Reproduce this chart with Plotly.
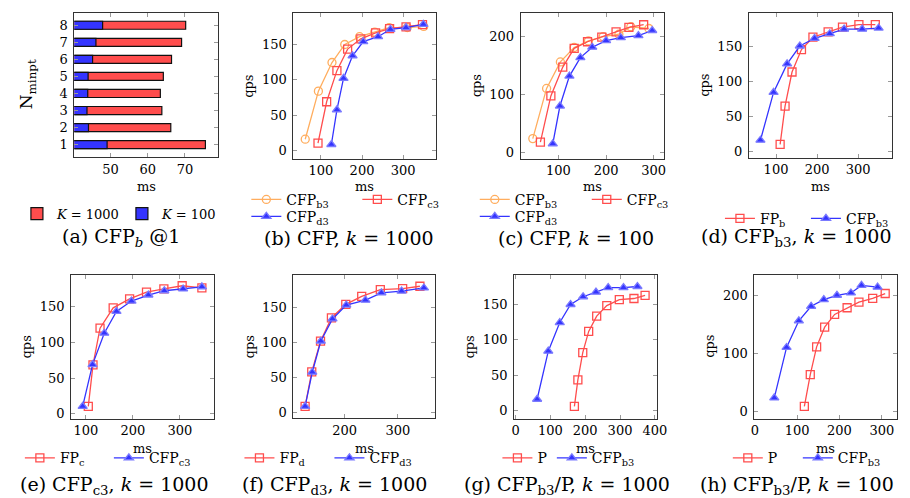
import plotly.graph_objects as go

# ---------------- data ----------------
a_N = [1, 2, 3, 4, 5, 6, 7, 8]
a_k1000 = [75.5, 66.2, 63.8, 63.4, 64.2, 66.4, 69.1, 70.2]
a_k100 = [49.1, 44.1, 43.7, 43.9, 44.0, 45.2, 46.1, 47.9]

cfp_b3_k1000_ms = [62, 94, 127, 158, 194, 231, 266, 310, 350]
cfp_b3_k1000_qps = [16, 84, 124.5, 150, 161, 167.5, 174, 174, 175.5]
cfp_c3_k1000_ms = [93, 114, 139, 165, 197, 233, 267, 307, 347]
cfp_c3_k1000_qps = [10.5, 69, 113, 143.5, 158, 166.5, 172.5, 175, 178]
cfp_d3_k1000_ms = [125.5, 139, 155, 177, 203, 239, 269, 307, 349]
cfp_d3_k1000_qps = [8.5, 57.5, 102, 134, 154, 161, 171.5, 174, 178.5]
fp_b_k1000_ms = [110, 122, 139, 162, 190, 227, 262, 302, 342]
fp_b_k1000_qps = [10, 64.5, 113, 145, 162.5, 170, 177, 180.5, 180.5]
fp_c_k1000_ms = [105, 115, 130, 158, 193, 229, 266, 305, 347]
fp_c_k1000_qps = [10.5, 68.5, 120, 148.5, 161, 170.5, 175, 179.5, 176.5]
fp_d_k1000_ms = [125.5, 138, 154.5, 175, 202, 232, 267, 309, 341.5]
fp_d_k1000_qps = [8.5, 58, 102, 135.5, 155, 166.5, 176, 177.5, 181]
p_k1000_ms = [169, 179, 193, 210, 233, 262, 298, 340, 372]
p_k1000_qps = [6, 43.5, 82, 112, 133.5, 148.5, 157, 158.5, 163]

cfp_b3_k100_ms = [46, 75, 104, 133, 163, 194, 227, 252, 290]
cfp_b3_k100_qps = [23.5, 110.5, 156.5, 181.5, 193, 200.5, 204.5, 217.5, 214.5]
cfp_c3_k100_ms = [62, 84, 109, 133, 161, 191, 221, 248, 279]
cfp_c3_k100_qps = [17.5, 97.5, 147.5, 180, 191.5, 199.5, 208.5, 216.5, 221]
cfp_d3_k100_ms = [88, 103, 123, 146, 171, 200, 231, 268, 297]
cfp_d3_k100_qps = [14.5, 80, 132, 164, 182, 193.5, 198.5, 202, 211]
p_k100_ms = [117, 131, 146, 165, 188.5, 218, 246, 278.5, 308]
p_k100_qps = [9, 63.5, 111.5, 145.5, 167.5, 179, 188.5, 195, 203.5]

captions = [
    "(a) CFP<sub><i>b</i></sub> @1",
    "(b) CFP, <i>k</i> = 1000",
    "(c) CFP, <i>k</i> = 100",
    "(d) CFP<sub>b3</sub>, <i>k</i> = 1000",
    "(e) CFP<sub>c3</sub>, <i>k</i> = 1000",
    "(f) CFP<sub>d3</sub>, <i>k</i> = 1000",
    "(g) CFP<sub>b3</sub>/P, <i>k</i> = 1000",
    "(h) CFP<sub>b3</sub>/P, <i>k</i> = 100",
]

# ---------------- style ----------------
W, H = 910, 498
FONT = "DejaVu Serif"
RED = "#ff4d4d"
BLUE = "#3434ff"
ORANGE = "#ffad5e"

fig = go.Figure()

# panel boxes in pixels: (left, right, top, bottom)
boxes = [
    (63.3, 209.3, 5, 150),
    (285.7, 430.7, 5, 151.7),
    (516.7, 662.3, 5, 151.7),
    (748.3, 893.3, 5, 150.7),
    (60, 205, 268.3, 413.3),
    (285.7, 430, 268.3, 412.7),
    (510, 655, 268.3, 413.3),
    (754, 899.3, 268.3, 413.3),
]
xranges = [[40.3, 78.9], [33, 380], [20.7, 322], [33.6, 381.6],
           [68.3, 372.5], [103.3, 370.6], [-4, 406], [-1, 337]]
yranges = [[0.27, 8.72], [-11.7, 194.6], [-11.5, 241.4], [-9, 197],
           [-7, 195], [-8.6, 197.6], [-11.7, 192.2], [-12.6, 236]]
xdticks = [10, 100, 100, 100, 100, 100, 100, 100]
ydticks = [1, 50, 100, 50, 50, 50, 50, 100]
capx = [111, 342, 573, 797, 104, 328, 564, 797]
capy = [231, 231, 231, 231, 480, 480, 480, 480]

layout = dict(
    width=W, height=H, margin=dict(l=0, r=0, t=0, b=0),
    paper_bgcolor="white", plot_bgcolor="white",
    font=dict(family=FONT, size=13, color="black"),
    barmode="overlay", showlegend=True,
)
for i, (l, r, t, b) in enumerate(boxes):
    n = "" if i == 0 else str(i + 1)
    common = dict(showline=True, linecolor="#333", linewidth=1, mirror="ticks",
                  ticks="inside", ticklen=4, tickcolor="#9a9a9a", tickwidth=1,
                  showgrid=False, zeroline=False,
                  tickfont=dict(family=FONT, size=13, color="black"))
    layout["xaxis" + n] = dict(domain=[l / W, r / W], range=xranges[i],
                               dtick=xdticks[i], anchor="y" + n, **common)
    layout["yaxis" + n] = dict(domain=[1 - b / H, 1 - t / H], range=yranges[i],
                               dtick=ydticks[i], anchor="x" + n,
                               ticklabelstandoff=3, **common)
fig.update_layout(**layout)


def line(x, y, name, color, symbol, ax, leg, lw=None):
    filled = symbol == "triangle-up"
    kw = {} if lw is None else dict(legendwidth=lw)
    fig.add_trace(go.Scatter(
        x=x, y=y, name=name, mode="lines+markers",
        line=dict(color=color, width=1.3),
        marker=dict(symbol=symbol, size=8 if filled else 8,
                    color=color,
                    line=dict(color="#7a7aff" if filled else color, width=1.3)),
        xaxis="x" + ax, yaxis="y" + ax, legend=leg, **kw))


# (a) bars
fig.add_trace(go.Bar(y=a_N, x=a_k1000, orientation="h", name="<i>K</i> = 1000",
                     marker=dict(color=RED, line=dict(color="#111", width=1.2)),
                     width=0.47, xaxis="x", yaxis="y", legend="legend", legendwidth=60))
fig.add_trace(go.Bar(y=a_N, x=a_k100, orientation="h", name="<i>K</i> = 100",
                     marker=dict(color=BLUE, line=dict(color="#111", width=1.2)),
                     width=0.47, xaxis="x", yaxis="y", legend="legend"))

# (b)
line(cfp_b3_k1000_ms, cfp_b3_k1000_qps, "CFP<sub>b3</sub>", ORANGE, "circle-open", "2", "legend2", 66)
line(cfp_c3_k1000_ms, cfp_c3_k1000_qps, "CFP<sub>c3</sub>", RED, "square-open", "2", "legend2")
line(cfp_d3_k1000_ms, cfp_d3_k1000_qps, "CFP<sub>d3</sub>", BLUE, "triangle-up", "2", "legend3")
# (c)
line(cfp_b3_k100_ms, cfp_b3_k100_qps, "CFP<sub>b3</sub>", ORANGE, "circle-open", "3", "legend4", 67)
line(cfp_c3_k100_ms, cfp_c3_k100_qps, "CFP<sub>c3</sub>", RED, "square-open", "3", "legend4")
line(cfp_d3_k100_ms, cfp_d3_k100_qps, "CFP<sub>d3</sub>", BLUE, "triangle-up", "3", "legend5")
# (d)
line(fp_b_k1000_ms, fp_b_k1000_qps, "FP<sub>b</sub>", RED, "square-open", "4", "legend6", 41)
line(cfp_b3_k1000_ms, cfp_b3_k1000_qps, "CFP<sub>b3</sub>", BLUE, "triangle-up", "4", "legend6")
# (e)
line(fp_c_k1000_ms, fp_c_k1000_qps, "FP<sub>c</sub>", RED, "square-open", "5", "legend7", 44)
line(cfp_c3_k1000_ms, cfp_c3_k1000_qps, "CFP<sub>c3</sub>", BLUE, "triangle-up", "5", "legend7")
# (f)
line(fp_d_k1000_ms, fp_d_k1000_qps, "FP<sub>d</sub>", RED, "square-open", "6", "legend8", 45)
line(cfp_d3_k1000_ms, cfp_d3_k1000_qps, "CFP<sub>d3</sub>", BLUE, "triangle-up", "6", "legend8")
# (g)
line(p_k1000_ms, p_k1000_qps, "P", RED, "square-open", "7", "legend9")
line(cfp_b3_k1000_ms, cfp_b3_k1000_qps, "CFP<sub>b3</sub>", BLUE, "triangle-up", "7", "legend9")
# (h)
line(p_k100_ms, p_k100_qps, "P", RED, "square-open", "8", "legend10", 25)
line(cfp_b3_k100_ms, cfp_b3_k100_qps, "CFP<sub>b3</sub>", BLUE, "triangle-up", "8", "legend10")

# legends: (left px, centre y px, font size)
legpos = {
    "legend": (5, 207, 13), "legend2": (238, 193, 14), "legend3": (238, 210, 14),
    "legend4": (470, 193, 14), "legend5": (470, 210, 14), "legend6": (719, 212, 14),
    "legend7": (8, 453, 14), "legend8": (231, 453, 14), "legend9": (493, 453, 14),
    "legend10": (727, 453, 14),
}
for k, (lx, ly, fs) in legpos.items():
    fig.update_layout(**{k: dict(x=lx / W, y=1 - ly / H, xanchor="left", yanchor="middle",
                                 orientation="h", bgcolor="rgba(0,0,0,0)", borderwidth=0,
                                 font=dict(family=FONT, size=fs, color="black"),
                                 itemwidth=30, tracegroupgap=0)})

ann = []
for i, c in enumerate(captions):
    ann.append(dict(x=capx[i] / W, y=1 - capy[i] / H, xref="paper", yref="paper",
                    xanchor="center", yanchor="middle",
                    text=c, showarrow=False, font=dict(family=FONT, size=19)))
# axis titles
for i, (l, r, t, b) in enumerate(boxes):
    msy = 180 if t < 100 else 443
    ann.append(dict(x=(l + r) / 2 / W, y=1 - msy / H, xref="paper", yref="paper",
                    xanchor="center", yanchor="middle",
                    text="ms", showarrow=False, font=dict(family=FONT, size=13)))
    if i == 0:
        ann.append(dict(x=16 / W, y=1 - 77 / H, xref="paper", yref="paper",
                        xanchor="center", yanchor="middle",
                        text="N<sub>minpt</sub>", textangle=-90, showarrow=False,
                        font=dict(family=FONT, size=17)))
    else:
        ann.append(dict(x=(l - 45) / W, y=1 - (t + b) / 2 / H, xref="paper", yref="paper",
                        xanchor="center", yanchor="middle",
                        text="qps", textangle=-90, showarrow=False,
                        font=dict(family=FONT, size=13)))
fig.update_layout(annotations=ann)

fig.write_html("out.html")
